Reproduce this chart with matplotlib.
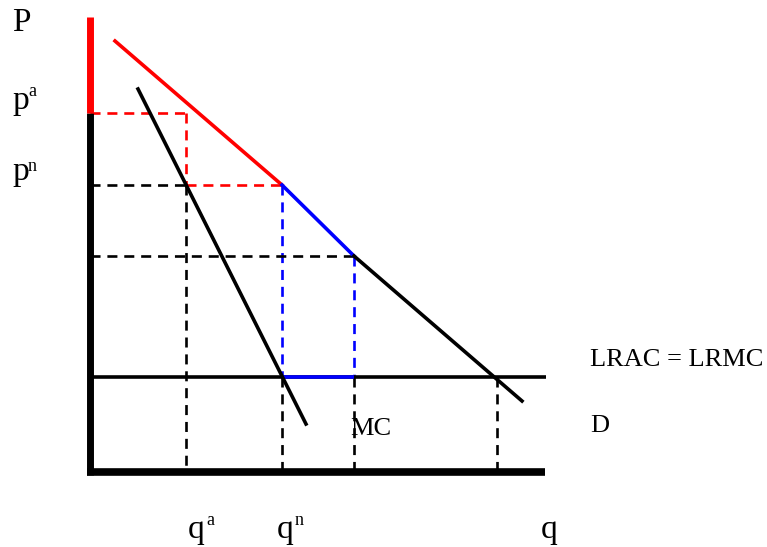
import matplotlib
matplotlib.use("Agg")
import matplotlib.pyplot as plt

# ---- data (units: quantity q, price p) ----
demand_q = [25, 192, 264, 432]
demand_p = [431, 287, 216, 71]
mr_q = [48, 216]
mr_p = [383, 48]
lrac_p = 95
q_max = 456
p_axis_top = 455
p_a = 359
p_n = 287
p_3 = 216
q_a = 96
q_n = 192
q_3 = 264
q_c = 407

serif = "Liberation Serif"
LW = 2.6
DLW = 1.9
dash = (0, (3.8, 2.6))

fig = plt.figure(figsize=(7.67, 5.47), dpi=100)
ax = fig.add_axes([0, 0, 1, 1])
ax.set_xlim(-90, 677)
ax.set_ylim(-75, 472)
ax.axis("off")

# dashed guides
ax.plot([0, q_a], [p_a, p_a], color="red", lw=DLW, ls=dash)
ax.plot([q_a, q_a], [p_a, p_n], color="red", lw=DLW, ls=dash)
ax.plot([q_a, q_n], [p_n, p_n], color="red", lw=DLW, ls=dash)
ax.plot([0, q_a], [p_n, p_n], color="black", lw=DLW, ls=dash)
ax.plot([q_a, q_a], [p_n, 0], color="black", lw=DLW, ls=dash)
ax.plot([q_n, q_n], [p_n, lrac_p], color="blue", lw=DLW, ls=dash)
ax.plot([q_3, q_3], [p_3, lrac_p], color="blue", lw=DLW, ls=dash)
ax.plot([q_n, q_n], [lrac_p, 0], color="black", lw=DLW, ls=dash)
ax.plot([q_3, q_3], [lrac_p, 0], color="black", lw=DLW, ls=dash)
ax.plot([0, q_3], [p_3, p_3], color="black", lw=DLW, ls=dash)
ax.plot([q_c, q_c], [lrac_p, 0], color="black", lw=DLW, ls=dash)

# LRAC
ax.plot([0, q_max], [lrac_p, lrac_p], color="black", lw=LW, solid_capstyle="butt")
ax.plot([q_n, q_3], [lrac_p, lrac_p], color="blue", lw=LW, solid_capstyle="butt")

# demand
ax.plot(demand_q[0:2], demand_p[0:2], color="red", lw=LW)
ax.plot(demand_q[1:3], demand_p[1:3], color="blue", lw=LW)
ax.plot(demand_q[2:4], demand_p[2:4], color="black", lw=LW)

# MR
ax.plot(mr_q, mr_p, color="black", lw=LW)

# axes
ax.plot([0, 0], [-3, p_a], color="black", lw=5, solid_capstyle="butt")
ax.plot([0, 0], [p_a, p_axis_top], color="red", lw=5, solid_capstyle="butt")
ax.plot([-3, q_max - 1], [0, 0], color="black", lw=5.5, solid_capstyle="butt")

# labels
big = 24
sup = 13
mid = 19
ax.text(-78, 441, "P", fontsize=big, family=serif, va="baseline", ha="left")
ax.text(-78, 363, "p", fontsize=big, family=serif, va="baseline", ha="left")
ax.text(-62, 376, "a", fontsize=sup, family=serif, va="baseline", ha="left")
ax.text(-78, 292, "p", fontsize=big, family=serif, va="baseline", ha="left")
ax.text(-62, 301, "n", fontsize=sup, family=serif, va="baseline", ha="left")

ax.text(98, -66, "q", fontsize=big, family=serif, va="baseline", ha="left")
ax.text(116, -53, "a", fontsize=sup, family=serif, va="baseline", ha="left")
ax.text(187, -66, "q", fontsize=big, family=serif, va="baseline", ha="left")
ax.text(205, -53, "n", fontsize=sup, family=serif, va="baseline", ha="left")
ax.text(451, -66, "q", fontsize=big, family=serif, va="baseline", ha="left")

ax.text(500, 106, "LRAC = LRMC", fontsize=mid, family=serif, va="baseline", ha="left")
ax.text(500, 40, "D", fontsize=mid, family=serif, va="baseline", ha="left")
ax.text(260, 37, "MC", fontsize=mid, family=serif, va="baseline", ha="left")

fig.savefig("out.png", dpi=100)
